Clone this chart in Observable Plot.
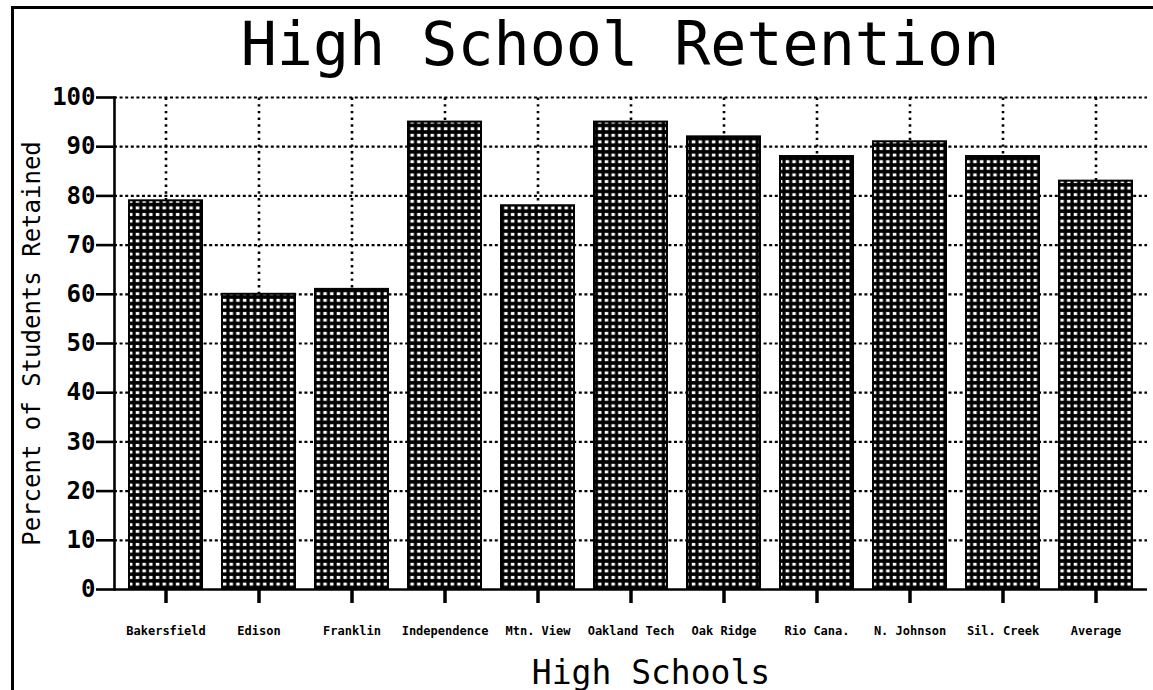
<!DOCTYPE html>
<html>
<head>
<meta charset="utf-8">
<script src="https://cdn.jsdelivr.net/npm/d3@7"></script>
<script src="https://cdn.jsdelivr.net/npm/@observablehq/plot@0.6"></script>
<style>
  html, body { margin: 0; padding: 0; background: #fff; }
  #wrap { position: relative; width: 1153px; height: 690px; overflow: hidden; }
  #frame { position: absolute; left: 11px; top: 6px; width: 1160px; height: 700px;
           border-left: 3px solid #000; border-top: 3px solid #000; box-sizing: border-box; pointer-events: none; }
  #chart { position: absolute; left: 0; top: 0; }
</style>
</head>
<body>
<div id="wrap"><div id="chart"></div><div id="frame"></div></div>
<script>
const schools = ["Bakersfield", "Edison", "Franklin", "Independence", "Mtn. View", "Oakland Tech",
                 "Oak Ridge", "Rio Cana.", "N. Johnson", "Sil. Creek", "Average"];
const retention = [79, 60, 61, 95, 78, 95, 92, 88, 91, 88, 83];
const yTicks = [0, 10, 20, 30, 40, 50, 60, 70, 80, 90, 100];
const titleText = "High School Retention";
const xTitle = "High Schools";
const yTitle = "Percent of Students Retained";

const data = schools.map((s, i) => ({school: s, value: retention[i]}));
const mono = "'DejaVu Sans Mono', 'Liberation Mono', monospace";

const chart = Plot.plot({
  width: 1153,
  height: 690,
  marginLeft: 114,
  marginRight: 6,
  marginTop: 97,
  marginBottom: 101,
  style: {fontFamily: mono, background: "transparent", color: "#000"},
  x: {domain: schools, paddingInner: 0.21, paddingOuter: 0.105, label: null},
  y: {domain: [0, 100], label: null},
  marks: [
    Plot.ruleY(yTicks.filter(d => d > 0), {stroke: "#000", strokeWidth: 2.2, strokeDasharray: "3,2.6"}),
    Plot.ruleX(data, {x: "school", y1: 0, y2: 100, stroke: "#000", strokeWidth: 2.6, strokeDasharray: "2.4,4.3"}),
    Plot.barY(data, {x: "school", y: "value", fill: "url(#dots)", stroke: "#000", strokeWidth: 2}),
    Plot.ruleY([0], {stroke: "#000", strokeWidth: 2.6}),
    Plot.frame({anchor: "left", stroke: "#000", strokeWidth: 2.6}),
    Plot.axisY({ticks: yTicks, tickSize: 18, tickPadding: 1, strokeWidth: 2.6,
                fontSize: 24, fontWeight: "bold", fontFamily: mono, label: null}),
    Plot.axisX({tickSize: 14, tickPadding: 23, strokeWidth: 3.5,
                fontSize: 12, fontWeight: "bold", fontFamily: mono, label: null}),
    Plot.text([titleText], {frameAnchor: "top", dx: -11, dy: -33, lineAnchor: "bottom",
                            fontSize: 60, fontFamily: mono, fill: "#000"}),
    Plot.text([xTitle], {frameAnchor: "bottom", dx: 20, dy: 94, lineAnchor: "bottom",
                         fontSize: 33, fontFamily: mono, fill: "#000"}),
    Plot.text([yTitle], {frameAnchor: "left", dx: -82, rotate: -90, textAnchor: "middle", lineAnchor: "middle",
                         fontSize: 24, fontFamily: mono, fill: "#000"})
  ]
});

// dot-matrix fill pattern for the bars
const svg = d3.select(chart);
const defs = svg.insert("defs", ":first-child");
const pat = defs.append("pattern")
  .attr("id", "dots").attr("patternUnits", "userSpaceOnUse")
  .attr("width", 6.7).attr("height", 6.6);
pat.append("rect").attr("width", 6.7).attr("height", 6.6).attr("fill", "#000");
pat.append("rect").attr("x", 1.7).attr("y", 1.8).attr("width", 3.5).attr("height", 3.0).attr("fill", "#fff");

document.getElementById("chart").appendChild(chart);
</script>
</body>
</html>
